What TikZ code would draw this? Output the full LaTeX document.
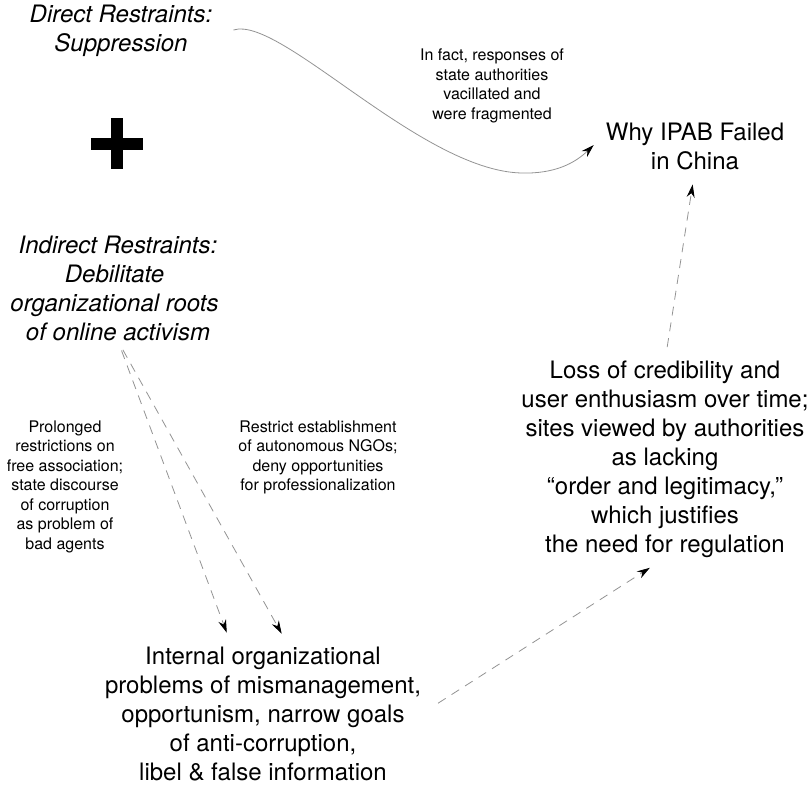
\documentclass[tikz,border=0pt]{standalone}
\usepackage{fontspec}
\setmainfont{TeX Gyre Heros}
\usetikzlibrary{arrows.meta}

\begin{document}
\begin{tikzpicture}[x=1pt,y=-1pt]
    \providecommand{\headfontsize}{\fontsize{24pt}{29pt}\selectfont}
    \providecommand{\notefontsize}{\fontsize{16pt}{19.5pt}\selectfont}
    \tikzset{
        headtext/.style={align=center,inner sep=0,font=\headfontsize},
        slanttext/.style={headtext,font=\headfontsize\itshape},
        notetext/.style={align=center,inner sep=0,font=\notefontsize},
        arrowlink/.style={draw=gray!85,line width=0.8pt,-{Stealth[length=13pt,width=8pt,color=black]}},
        dashlink/.style={arrowlink,dash pattern=on 9pt off 7pt},
    }
    \useasboundingbox (0,0) rectangle (811,785);
    % left column
    \node[slanttext] (direct) at (121,31) {Direct Restraints:\\Suppression};
    \fill (91,138) rectangle (143,150);
    \fill (111,118) rectangle (123,169);
    \node[slanttext] (indirect) at (118,288.5) {Indirect Restraints:\\Debilitate\kern7pt\\organizational roots\kern7pt\\of online activism};
    \node[notetext] (prolonged) at (65,486.5) {Prolonged\\restrictions on\\free association;\\state discourse\\of corruption\\as problem of\\bad agents};
    \node[notetext] (restrict) at (318,457.5) {Restrict establishment\\of autonomous NGOs;\\deny opportunities\\for professionalization};
    \node[headtext] (internal) at (263,714) {Internal organizational\\problems of mismanagement,\\opportunism, narrow goals\\of anti-corruption,\\libel \& false information};
    % right column
    \node[notetext] (infact) at (492,86) {In fact, responses of\\state authorities\\vacillated and\\were fragmented};
    \node[headtext] (why) at (695,146) {Why IPAB Failed\\in China};
    \node[headtext] (loss) at (665,459.5) {Loss of credibility and\\user enthusiasm over time;\\sites viewed by authorities\\as lacking\\“order and legitimacy,”\\which justifies\\the need for regulation};
    % connectors
    \draw[arrowlink] ([xshift=21pt,yshift=1pt]direct.east) .. controls (280,15) and (420,170) .. (521,173) .. controls (555,174) and (575,163) .. ([xshift=-12pt,yshift=1pt]why.west);
    \draw[dashlink,shorten <=14pt,shorten >=15pt] (loss.north) -- (why.south);
    \draw[dashlink,shorten <=10pt,shorten >=15pt] (indirect.south) -- ([xshift=-31pt]internal.north);
    \draw[dashlink,shorten <=10pt,shorten >=15pt] (indirect.south) -- ([xshift=26pt]internal.north);
    \draw[dashlink,shorten <=20pt,shorten >=18pt] (internal.east) -- (loss.south);
\end{tikzpicture}
\end{document}
